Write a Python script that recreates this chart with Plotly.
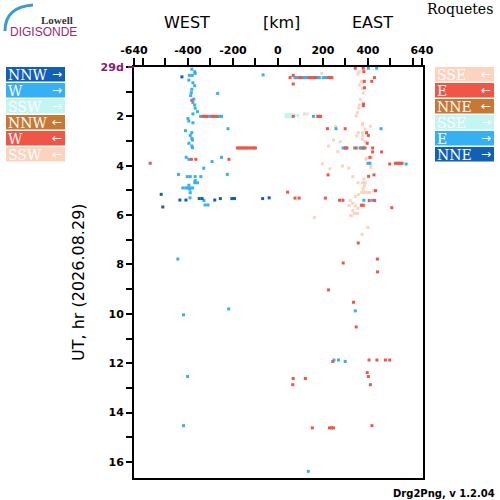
import plotly.graph_objects as go

# colours of the six direction classes
dark_blue = "#1060B8"
light_blue = "#35B0F5"
pale_cyan = "#C4F5F2"
brown = "#C87832"
red = "#F05545"
peach = "#FDD3BE"

# --- West side sources ---
w_out_km = [-383, -370, -368, -394, -381, -396, -378, -370, -383, -385, -388, -374, -378, -370,
            -368, -358, -378, -66, -268, -344, -311, -303, -296, -269, -260, -251, -400, -396,
            -378, -222, -411, -383, -390, -383, -380, -396, -383, -380, -251, -408, -396, -293,
            -330, -442, -403, -390, -368, -343, -225, -368, -370, -358, -396, -423, -410, -400,
            -390, -379, -392, -390, -391, -329, -324, -311, -445, -219, -420, -402, -420]
w_out_hr = [0.09, 0.19, 0.26, 0.34, 0.34, 0.53, 0.64, 0.76, 0.9, 1.04, 1.16, 1.3, 1.44, 1.54,
            1.67, 1.81, 1.9, 0.32, 1.07, 2.0, 2.0, 2.0, 2.0, 2.0, 2.0, 2.0, 2.09, 2.19,
            2.26, 2.5, 2.58, 2.66, 2.77, 2.89, 2.96, 3.09, 3.2, 3.27, 3.66, 3.66, 3.74, 3.83,
            4.1, 4.35, 4.44, 4.44, 4.44, 4.44, 4.35, 4.6, 4.69, 4.69, 4.79, 4.9, 4.9, 4.9,
            4.9, 4.9, 4.95, 5.09, 5.3, 5.41, 5.59, 5.59, 7.78, 9.8, 10.04, 12.54, 14.53]

nnw_out_km = [-427, -519, -350, -337, -256, -205, -199, -193, -68, -39, -436, -409, -281, -512]
nnw_out_hr = [0.4, 5.16, 5.33, 5.33, 5.33, 5.33, 5.33, 5.33, 5.33, 5.3, 5.39, 5.39, 5.39, 5.67]

w_in_km = [-383, -333, -325, -317, -292, -284, -275, -180, -172, -164, -156, -148, -140, -132,
           -124, -114, -106, -100, -385, -365, -218, -568]
w_in_hr = [1.35, 2.0, 2.0, 2.0, 2.0, 2.0, 2.0, 3.28, 3.28, 3.28, 3.28, 3.28, 3.28, 3.28,
           3.28, 3.28, 3.28, 3.28, 3.74, 3.74, 3.74, 3.9]

# --- East side sources ---
sse_in_km = [362, 356, 195, 371, 362, 376, 375, 379, 366, 362, 359, 353, 348, 118, 376, 376,
             411, 257, 387, 357, 376, 350, 376, 247, 277, 225, 266, 376, 388, 394, 390, 415,
             198, 414, 412, 287, 231, 315, 333, 382, 356, 376, 388, 385, 379, 378, 426, 373,
             382, 390, 399, 408, 359, 344, 321, 332, 317, 344, 373, 384, 356, 332, 344, 326,
             162, 324, 339, 354, 400, 374]
sse_in_hr = [0.19, 0.28, 0.26, 0.59, 0.73, 0.64, 0.87, 1.05, 1.31, 1.54, 1.67, 1.84, 1.98, 1.9,
             2.28, 2.35, 2.4, 2.41, 2.51, 2.66, 2.66, 2.79, 2.79, 2.96, 3.02, 3.2, 3.43, 2.93,
             3.02, 3.7, 3.74, 3.66, 3.92, 4.01, 4.06, 4.01, 4.12, 4.1, 4.44, 4.54, 4.69, 4.69,
             4.69, 4.81, 4.92, 5.05, 5.01, 5.08, 5.08, 5.08, 5.08, 5.08, 5.17, 5.25, 5.41,
             5.52, 5.61, 5.63, 5.61, 5.61, 5.73, 5.81, 5.93, 6.02, 6.1, 6.02, 5.93, 5.93,
             6.5, 6.78]

e_in_km = [344, 379, 382, 68, 54, 94, 103, 138, 146, 155, 162, 168, 225, 232, 240, 429, 68,
           384, 417, 385, 380, 380, 68, 177, 184, 190, 220, 299, 394, 402, 397, 421, 301, 307,
           348, 378, 382, 421, 461, 409, 497, 522, 530, 537, 545, 552, 223, 403, 427, 434, 43,
           76, 94, 211, 274, 289, 406, 430, 371, 379, 506, 357, 290, 442, 443, 225, 336, 348,
           244, 405, 440, 478, 497, 397, 402, 411, 68, 66, 122, 153, 229, 238, 247, 418]
e_in_hr = [0.05, 0.05, 0.19, 0.34, 0.43, 0.43, 0.43, 0.43, 0.43, 0.43, 0.43, 0.43, 0.43, 0.43,
           0.43, 0.43, 0.69, 0.58, 0.58, 0.84, 1.5, 1.57, 2.0, 2.0, 2.0, 2.0, 2.5, 2.5, 2.66,
           2.77, 3.09, 3.28, 3.28, 3.28, 3.28, 3.28, 3.28, 3.44, 3.44, 3.66, 3.93, 3.9, 3.9,
           3.9, 3.9, 3.9, 4.37, 4.43, 4.37, 5.01, 5.07, 5.31, 5.31, 5.31, 5.4, 5.4, 5.41, 5.41,
           5.6, 5.6, 5.7, 7.13, 7.94, 7.78, 8.3, 9.03, 9.53, 10.53, 11.93, 11.87, 11.87,
           11.87, 11.87, 12.38, 12.54, 12.87, 12.62, 12.87, 12.62, 14.62, 14.62, 14.62, 14.62,
           14.53]

e_out_km = [402, 439, 76, 85, 112, 117, 125, 132, 174, 180, 184, 201, 210, 220, 158, 258, 458,
            290, 299, 341, 365, 370, 388, 400, 409, 570, 382, 421, 344, 249, 269, 299, 135]
e_out_hr = [0.05, 0.05, 0.43, 0.43, 0.43, 0.43, 0.43, 0.43, 0.43, 0.43, 0.43, 0.43, 0.43, 0.43,
            2.0, 2.5, 2.5, 3.28, 3.28, 3.28, 3.28, 3.28, 3.28, 3.9, 3.9, 3.93, 5.4, 5.4, 9.88,
            11.87, 11.87, 11.93, 16.38]

sse_out_km = [36, 44, 52, 60, 68, 36, 44, 52, 60, 76, 88, 131]
sse_out_hr = [1.93, 1.93, 1.93, 1.93, 1.93, 2.02, 2.02, 2.02, 2.02, 1.96, 1.96, 1.9]

# axis ticks
x_tickvals = [-640, -600, -500, -400, -300, -200, -100, 0, 100, 200, 300, 400, 500, 600, 640]
x_ticktext = ["-640", "", "", "-400", "", "-200", "", "0", "", "200", "", "400", "", "", "640"]
y_tickvals = list(range(0, 17))
y_ticktext = ["<span style='color:#8B1A6B'>29d</span>"] + \
             [str(h) if h % 2 == 0 else "" for h in range(1, 17)]

left_legend = [("NNW", "\u2192", dark_blue), ("W", "\u2192", light_blue), ("SSW", "\u2192", pale_cyan),
               ("NNW", "\u2190", brown), ("W", "\u2190", red), ("SSW", "\u2190", peach)]
right_legend = [("SSE", "\u2190", peach), ("E", "\u2190", red), ("NNE", "\u2190", brown),
                ("SSE", "\u2192", pale_cyan), ("E", "\u2192", light_blue), ("NNE", "\u2192", dark_blue)]

# plot frame in pixels
L, R, T, B = 134, 423, 67, 478


def px(x):
    return (x - L) / (R - L)


def py(y):
    return (B - y) / (B - T)


fig = go.Figure()
series = [(sse_in_km, sse_in_hr, peach), (sse_out_km, sse_out_hr, pale_cyan),
          (w_out_km, w_out_hr, light_blue), (e_out_km, e_out_hr, light_blue),
          (nnw_out_km, nnw_out_hr, dark_blue), (w_in_km, w_in_hr, red), (e_in_km, e_in_hr, red)]
for xs, ys, col in series:
    fig.add_trace(go.Scatter(x=xs, y=ys, mode='markers', showlegend=False, hoverinfo='skip',
                             marker=dict(symbol='square', size=3, color=col, line=dict(width=0))))

shapes = []
annotations = []
for side, items in (("left", left_legend), ("right", right_legend)):
    x0 = 6 if side == "left" else 435
    for i, (lab, arr, col) in enumerate(items):
        top = 67 + i * 16
        shapes.append(dict(type='rect', xref='paper', yref='paper', x0=px(x0), x1=px(x0 + 59),
                           y0=py(top + 14.5), y1=py(top), fillcolor=col, line=dict(width=0)))
        annotations.append(dict(text=lab, x=px(x0), y=py(top + 7.5), xref='paper', yref='paper',
                                xanchor='left', yanchor='middle', showarrow=False,
                                font=dict(family="DejaVu Serif", size=14, color="white")))
        annotations.append(dict(text=arr, x=px(x0 + 58), y=py(top + 7), xref='paper', yref='paper',
                                xanchor='right', yanchor='middle', showarrow=False,
                                font=dict(family="DejaVu Sans", size=12, color="white")))

# purple tick for the day start
shapes.append(dict(type='line', xref='paper', yref='paper', x0=px(128), x1=px(L), y0=1, y1=1,
                   line=dict(color="#8B1A6B", width=2)))
# logo arc
shapes.append(dict(type='path', xref='paper', yref='paper',
                   path="M %f,%f Q %f,%f %f,%f" % (px(5), py(31), px(5), py(7), px(33), py(5)),
                   line=dict(color="#3A9AD9", width=3)))

texts = [("WEST", 187, 22, 16, "DejaVu Sans", "black", 'center'),
         ("[km]", 281, 22, 16, "DejaVu Sans", "black", 'center'),
         ("EAST", 372, 22, 16, "DejaVu Sans", "black", 'center'),
         ("Roquetes", 460, 9, 14, "DejaVu Serif", "black", 'center'),
         ("<b>Lowell</b>", 57, 20, 11, "Liberation Serif", "#333333", 'center'),
         ("DIGISONDE", 43, 32, 12, "Liberation Sans", "#9A2A6A", 'center'),
         ("<b>Drg2Png, v 1.2.04</b>", 497, 493, 10, "DejaVu Sans", "black", 'right')]
for t, x, y, s, fam, col, anc in texts:
    annotations.append(dict(text=t, x=px(x), y=py(y), xref='paper', yref='paper', xanchor=anc,
                            yanchor='middle', showarrow=False,
                            font=dict(family=fam, size=s, color=col)))
annotations.append(dict(text="UT, hr (2026.08.29)", x=px(78), y=py(282), xref='paper', yref='paper',
                        textangle=-90, showarrow=False, xanchor='center', yanchor='middle',
                        font=dict(family="DejaVu Sans", size=16, color="black")))

fig.update_layout(
    width=500, height=500,
    margin=dict(l=L, r=500 - R, t=T, b=500 - B),
    paper_bgcolor="white", plot_bgcolor="white",
    shapes=shapes, annotations=annotations,
    xaxis=dict(side='top', range=[-640, 645], tickvals=x_tickvals, ticktext=x_ticktext,
               ticks='outside', ticklen=7, tickwidth=1.5, tickcolor='black',
               showline=True, linecolor='black', linewidth=2, mirror=True,
               showgrid=False, zeroline=False,
               tickfont=dict(family="DejaVu Sans", size=11, color="black", weight="bold")),
    yaxis=dict(range=[16.65, 0], tickvals=y_tickvals, ticktext=y_ticktext,
               ticks='outside', ticklen=6, tickwidth=1.5, tickcolor='black',
               showline=True, linecolor='black', linewidth=2, mirror=True,
               showgrid=False, zeroline=False,
               tickfont=dict(family="DejaVu Sans", size=11, color="black", weight="bold")),
)

# drop the browser's default page margin so the figure sits at the window corner
fig.write_html("out.html", config={"displayModeBar": False},
               post_script="document.body.style.margin='0';")
